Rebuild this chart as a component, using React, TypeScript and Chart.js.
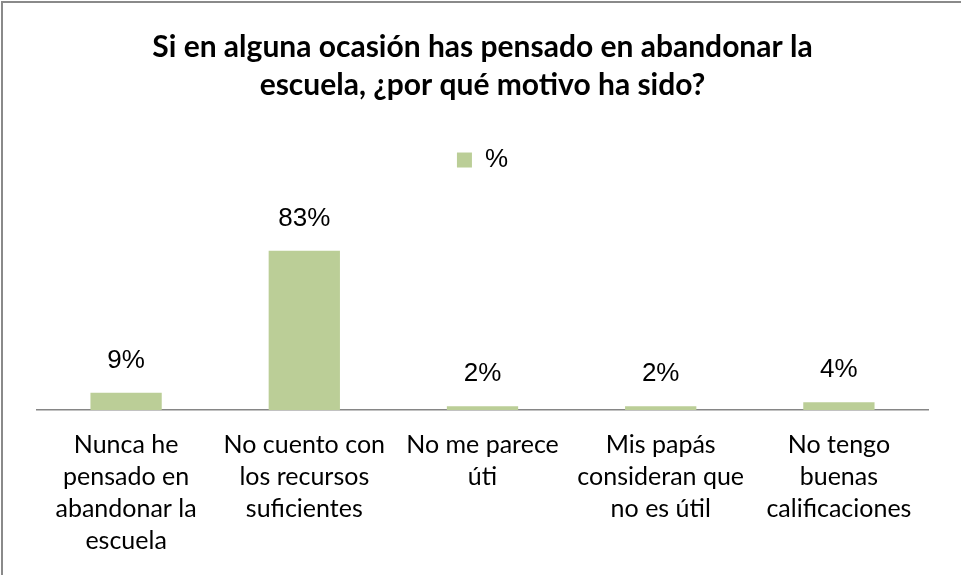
import React, { useEffect, useRef } from "react";
import { Chart, registerables } from "chart.js";

Chart.register(...registerables);

const titleLines: string[] = [
  "Si en alguna ocasión has pensado en abandonar la",
  "escuela, ¿por qué motivo ha sido?",
];
const seriesName = "%";
const categories: string[][] = [
  ["Nunca he", "pensado en", "abandonar la", "escuela"],
  ["No cuento con", "los recursos", "suficientes"],
  ["No me parece", "úti"],
  ["Mis papás", "consideran que", "no es útil"],
  ["No tengo", "buenas", "calificaciones"],
];
const values: number[] = [9, 83, 2, 2, 4];

const BAR_COLOR = "#bbce97";

const dataLabels = {
  id: "dataLabels",
  afterDatasetsDraw(chart: any) {
    const ctx = chart.ctx;
    const meta = chart.getDatasetMeta(0);
    ctx.save();
    ctx.font = "26px 'Liberation Sans', Arial, sans-serif";
    ctx.fillStyle = "#000";
    ctx.textAlign = "center";
    ctx.textBaseline = "alphabetic";
    meta.data.forEach((bar: any, i: number) => {
      ctx.fillText(`${values[i]}%`, bar.x, bar.y - 25);
    });
    ctx.restore();
  },
};

// adds empty space below the legend, like the gap in the original
const legendSpacer = {
  id: "legendSpacer",
  beforeInit(chart: any) {
    const legend = chart.legend;
    if (!legend) return;
    const origFit = legend.fit;
    legend.fit = function () {
      origFit.call(this);
      this.height += 35;
    };
  },
};

export default function App() {
  const ref = useRef<HTMLCanvasElement | null>(null);
  useEffect(() => {
    document.body.style.margin = "0";
    if (!ref.current) return;
    const chart = new Chart(ref.current, {
      type: "bar",
      data: {
        labels: categories,
        datasets: [
          {
            label: seriesName,
            data: values,
            backgroundColor: BAR_COLOR,
            borderWidth: 0,
            categoryPercentage: 1,
            barPercentage: 0.4,
          },
        ],
      },
      options: {
        responsive: false,
        animation: false,
        devicePixelRatio: 1,
        layout: { padding: { left: 37, right: 33, top: 0, bottom: 0 } },
        plugins: {
          title: {
            display: true,
            text: titleLines,
            color: "#000",
            font: { family: "Lato, 'Open Sans', sans-serif", size: 30, weight: "bold", lineHeight: 1.267 },
            padding: { top: 28, bottom: 33 },
          },
          legend: {
            display: true,
            position: "top",
            labels: {
              color: "#000",
              font: { family: "'Liberation Sans', Arial, sans-serif", size: 26 },
              boxWidth: 15,
              boxHeight: 15,
              padding: 10,
            },
          },
          tooltip: { enabled: false },
        },
        scales: {
          x: {
            grid: { display: false, drawTicks: false },
            border: { display: true, color: "#868686", width: 1.5 },
            ticks: {
              color: "#000",
              padding: 18.5,
              maxRotation: 0,
              autoSkip: false,
              font: { family: "Lato, 'Open Sans', sans-serif", size: 25, lineHeight: 1.28 },
            },
          },
          y: {
            display: false,
            min: 0,
            max: 100,
          },
        },
      },
      plugins: [legendSpacer, dataLabels],
    });
    return () => chart.destroy();
  }, []);
  return (
    <div style={{ position: "relative", width: 961, height: 575, background: "#fff" }}>
      <canvas ref={ref} width={961} height={575} style={{ display: "block" }} />
      <div
        style={{
          position: "absolute",
          left: 1,
          top: 1,
          right: 0,
          bottom: 0,
          borderLeft: "2px solid #8a8a8a",
          borderTop: "2px solid #8a8a8a",
          pointerEvents: "none",
        }}
      />
    </div>
  );
}
